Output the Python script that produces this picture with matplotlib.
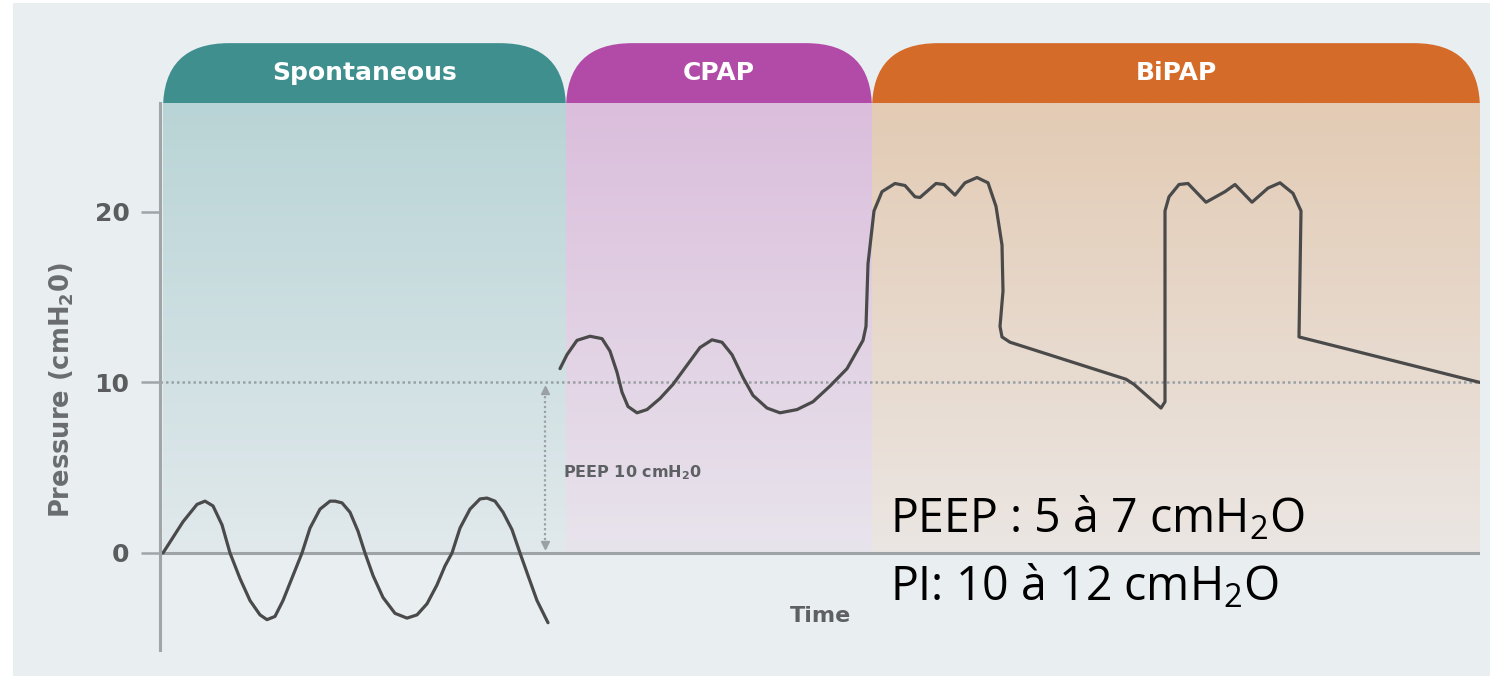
# System Modules
import matplotlib.pyplot as plt
import numpy             as np
from matplotlib.patches import FancyBboxPatch, Rectangle
from matplotlib.colors  import LinearSegmentedColormap

##===============================================================================
# DATA

# Phases (time units, 1 unit ~ one tenth of a breath cycle drawing)
phase_names  = ["Spontaneous", "CPAP", "BiPAP"]
phase_edges  = [0.03, 4.06, 7.12, 13.20]
phase_tab    = ["#3f8f8f", "#b24aa7", "#d46b28"]
phase_top    = ["#b9d4d6", "#dbbedc", "#e3cbb4"]
phase_bottom = ["#e1e9ec", "#e8e4ec", "#ebe6e3"]

# Spontaneous breathing pressure (cmH2O)
spont_t = [0.03, 0.23, 0.37, 0.45, 0.53, 0.62, 0.70, 0.80, 0.90, 1.00, 1.07,
           1.15, 1.23, 1.33, 1.42, 1.50, 1.60, 1.70, 1.75, 1.82, 1.90, 1.98,
           2.05, 2.13, 2.23, 2.35, 2.47, 2.57, 2.67, 2.77, 2.85, 2.92, 3.00,
           3.10, 3.20, 3.27, 3.35, 3.43, 3.52, 3.60, 3.68, 3.77, 3.88]
spont_p = [0.0, 1.83, 2.85, 3.04, 2.76, 1.65, 0.0, -1.50, -2.79, -3.63, -3.91,
           -3.72, -2.79, -1.32, 0.0, 1.46, 2.57, 3.04, 3.04, 2.94, 2.39, 1.28,
           0.0, -1.32, -2.61, -3.54, -3.82, -3.63, -2.98, -1.87, -0.76, 0.0, 1.46,
           2.57, 3.17, 3.22, 3.04, 2.39, 1.37, 0.0, -1.32, -2.79, -4.09]

# CPAP pressure (cmH2O)
cpap_t = [4.00, 4.07, 4.17, 4.30, 4.42, 4.50, 4.57, 4.62, 4.68, 4.77, 4.87,
          5.00, 5.13, 5.27, 5.40, 5.52, 5.62, 5.72, 5.83, 5.93, 6.07, 6.20,
          6.37, 6.53, 6.70, 6.87, 7.03]
cpap_p = [10.81, 11.63, 12.47, 12.71, 12.57, 11.84, 10.60, 9.43, 8.59, 8.22, 8.41,
          9.06, 9.89, 11.01, 12.05, 12.50, 12.36, 11.63, 10.29, 9.24, 8.50, 8.22,
          8.41, 8.87, 9.79, 10.81, 12.47]

# BiPAP pressure (cmH2O)
bipap_t = [7.06, 7.08, 7.14, 7.22, 7.35, 7.45, 7.55, 7.60, 7.76, 7.84, 7.95,
           8.05, 8.17, 8.28, 8.36, 8.42, 8.43, 8.40, 8.42, 8.50, 9.66, 9.74,
           10.01, 10.05, 10.05, 10.09, 10.19, 10.28, 10.46, 10.65, 10.75, 10.92,
           11.08, 11.20, 11.33, 11.41, 11.39, 13.20]
bipap_p = [13.29, 16.96, 20.06, 21.19, 21.67, 21.55, 20.89, 20.85, 21.67, 21.61, 20.99,
           21.71, 22.02, 21.71, 20.33, 18.06, 15.36, 13.29, 12.67, 12.36, 10.19, 9.89,
           8.50, 8.87, 20.06, 20.89, 21.61, 21.67, 20.57, 21.19, 21.61, 20.57,
           21.40, 21.71, 21.09, 20.06, 12.67, 10.00]

peep         = 10
y_ticks      = [0, 10, 20]
peep_arrow_t = 3.85

##===============================================================================
# FIGURE

W, H    = 1494, 676
fig     = plt.figure(figsize=(W/100, H/100), dpi=100, facecolor="white")
fig.add_artist(Rectangle((13/W, 0), (1490-13)/W, (H-3)/H, transform=fig.transFigure,
                         facecolor="#e9eef1", edgecolor="none", zorder=-5))

ax      = fig.add_axes([160/W, (H-650)/H, (1480-160)/W, (650-103)/H])
ax.patch.set_visible(False)

y_lo, y_hi = -5.69, 26.39

# Gradient bands for each phase
for i in range(len(phase_names)):
    cmap = LinearSegmentedColormap.from_list("b%d" % i, [phase_bottom[i], phase_top[i]])
    grad = np.linspace(0, 1, 256).reshape(-1, 1)
    ax.imshow(grad, cmap=cmap, origin="lower", aspect="auto", zorder=1,
              extent=[phase_edges[i], phase_edges[i+1], 0, y_hi])

ax.set_xlim(0, 13.2)
ax.set_ylim(y_lo, y_hi)

# Header tabs (rounded top corners, lower part hidden behind bands)
aspect = (ax.transData.transform((1, 0))[0] - ax.transData.transform((0, 0))[0]) / \
         (ax.transData.transform((0, 1))[1] - ax.transData.transform((0, 0))[1])
tab_top = 29.9
for i in range(len(phase_names)):
    x0, x1 = phase_edges[i], phase_edges[i+1]
    tab = FancyBboxPatch((x0, 18), x1 - x0, tab_top - 18,
                         boxstyle="round,pad=0,rounding_size=0.66",
                         mutation_aspect=aspect, facecolor=phase_tab[i],
                         edgecolor="none", clip_on=False, zorder=0.5)
    ax.add_patch(tab)
    ax.text((x0 + x1)/2, 28.15, phase_names[i], color="white", fontsize=18,
            fontweight="bold", ha="center", va="center", clip_on=False, zorder=3)

# Reference lines
ax.axhline(0, color="#9ea3a6", lw=2.2, zorder=2)
ax.plot([0, 13.2], [peep, peep], color="#9aa1a5", lw=1.8,
        linestyle=(0, (1, 1.2)), zorder=2)

# PEEP arrow
ax.plot([peep_arrow_t]*2, [0.45, peep - 0.45], color="#9aa0a4", lw=1.6,
        linestyle=(0, (1, 1.2)), zorder=2)
ax.plot([peep_arrow_t], [peep - 0.45], marker="^", ms=6, color="#9aa0a4", zorder=2)
ax.plot([peep_arrow_t], [0.45], marker="v", ms=6, color="#9aa0a4", zorder=2)
ax.text(4.03, 4.7, r"PEEP 10 cmH$_{\mathregular{2}}$0", fontsize=11.5, fontweight="bold",
        color="#5e6163", ha="left", va="center", zorder=3)

# Pressure curves
line_kw = dict(color="#4a4a4a", lw=2.3, solid_joinstyle="round",
               solid_capstyle="round", zorder=4)
ax.plot(spont_t, spont_p, **line_kw)
ax.plot(cpap_t + bipap_t, cpap_p + bipap_p, **line_kw)

# Axes styling
for s in ["top", "right", "bottom"]:
    ax.spines[s].set_visible(False)
ax.spines["left"].set_color("#a0a5a8")
ax.spines["left"].set_linewidth(2.2)
ax.spines["left"].set_zorder(5)
ax.set_xticks([])
ax.set_yticks(y_ticks)
ax.set_yticklabels([str(v) for v in y_ticks])
ax.tick_params(axis="y", length=14, width=1.8, color="#9ea4a7", pad=8,
               labelsize=18, labelcolor="#5a5c5e")
for lbl in ax.get_yticklabels():
    lbl.set_fontweight("bold")

fig.text(62/W, (H-390)/H, r"Pressure (cmH$_{\mathregular{2}}$0)", rotation=90,
         fontsize=18.5, fontweight="bold", color="#6a6c6e", ha="center", va="center")
fig.text(820/W, (H-616)/H, "Time", fontsize=16, fontweight="bold",
         color="#5e6062", ha="center", va="center")

# Annotation (recommended settings)
fig.text(890/W, (H-533)/H, r"PEEP : 5 à 7 cmH$_{\mathregular{2}}$O", family="Open Sans",
         fontsize=33.5, color="black", ha="left", va="baseline")
fig.text(890/W, (H-600)/H, r"PI: 10 à 12 cmH$_{\mathregular{2}}$O", family="Open Sans",
         fontsize=33.5, color="black", ha="left", va="baseline")

plt.savefig("out.png", dpi=100)
